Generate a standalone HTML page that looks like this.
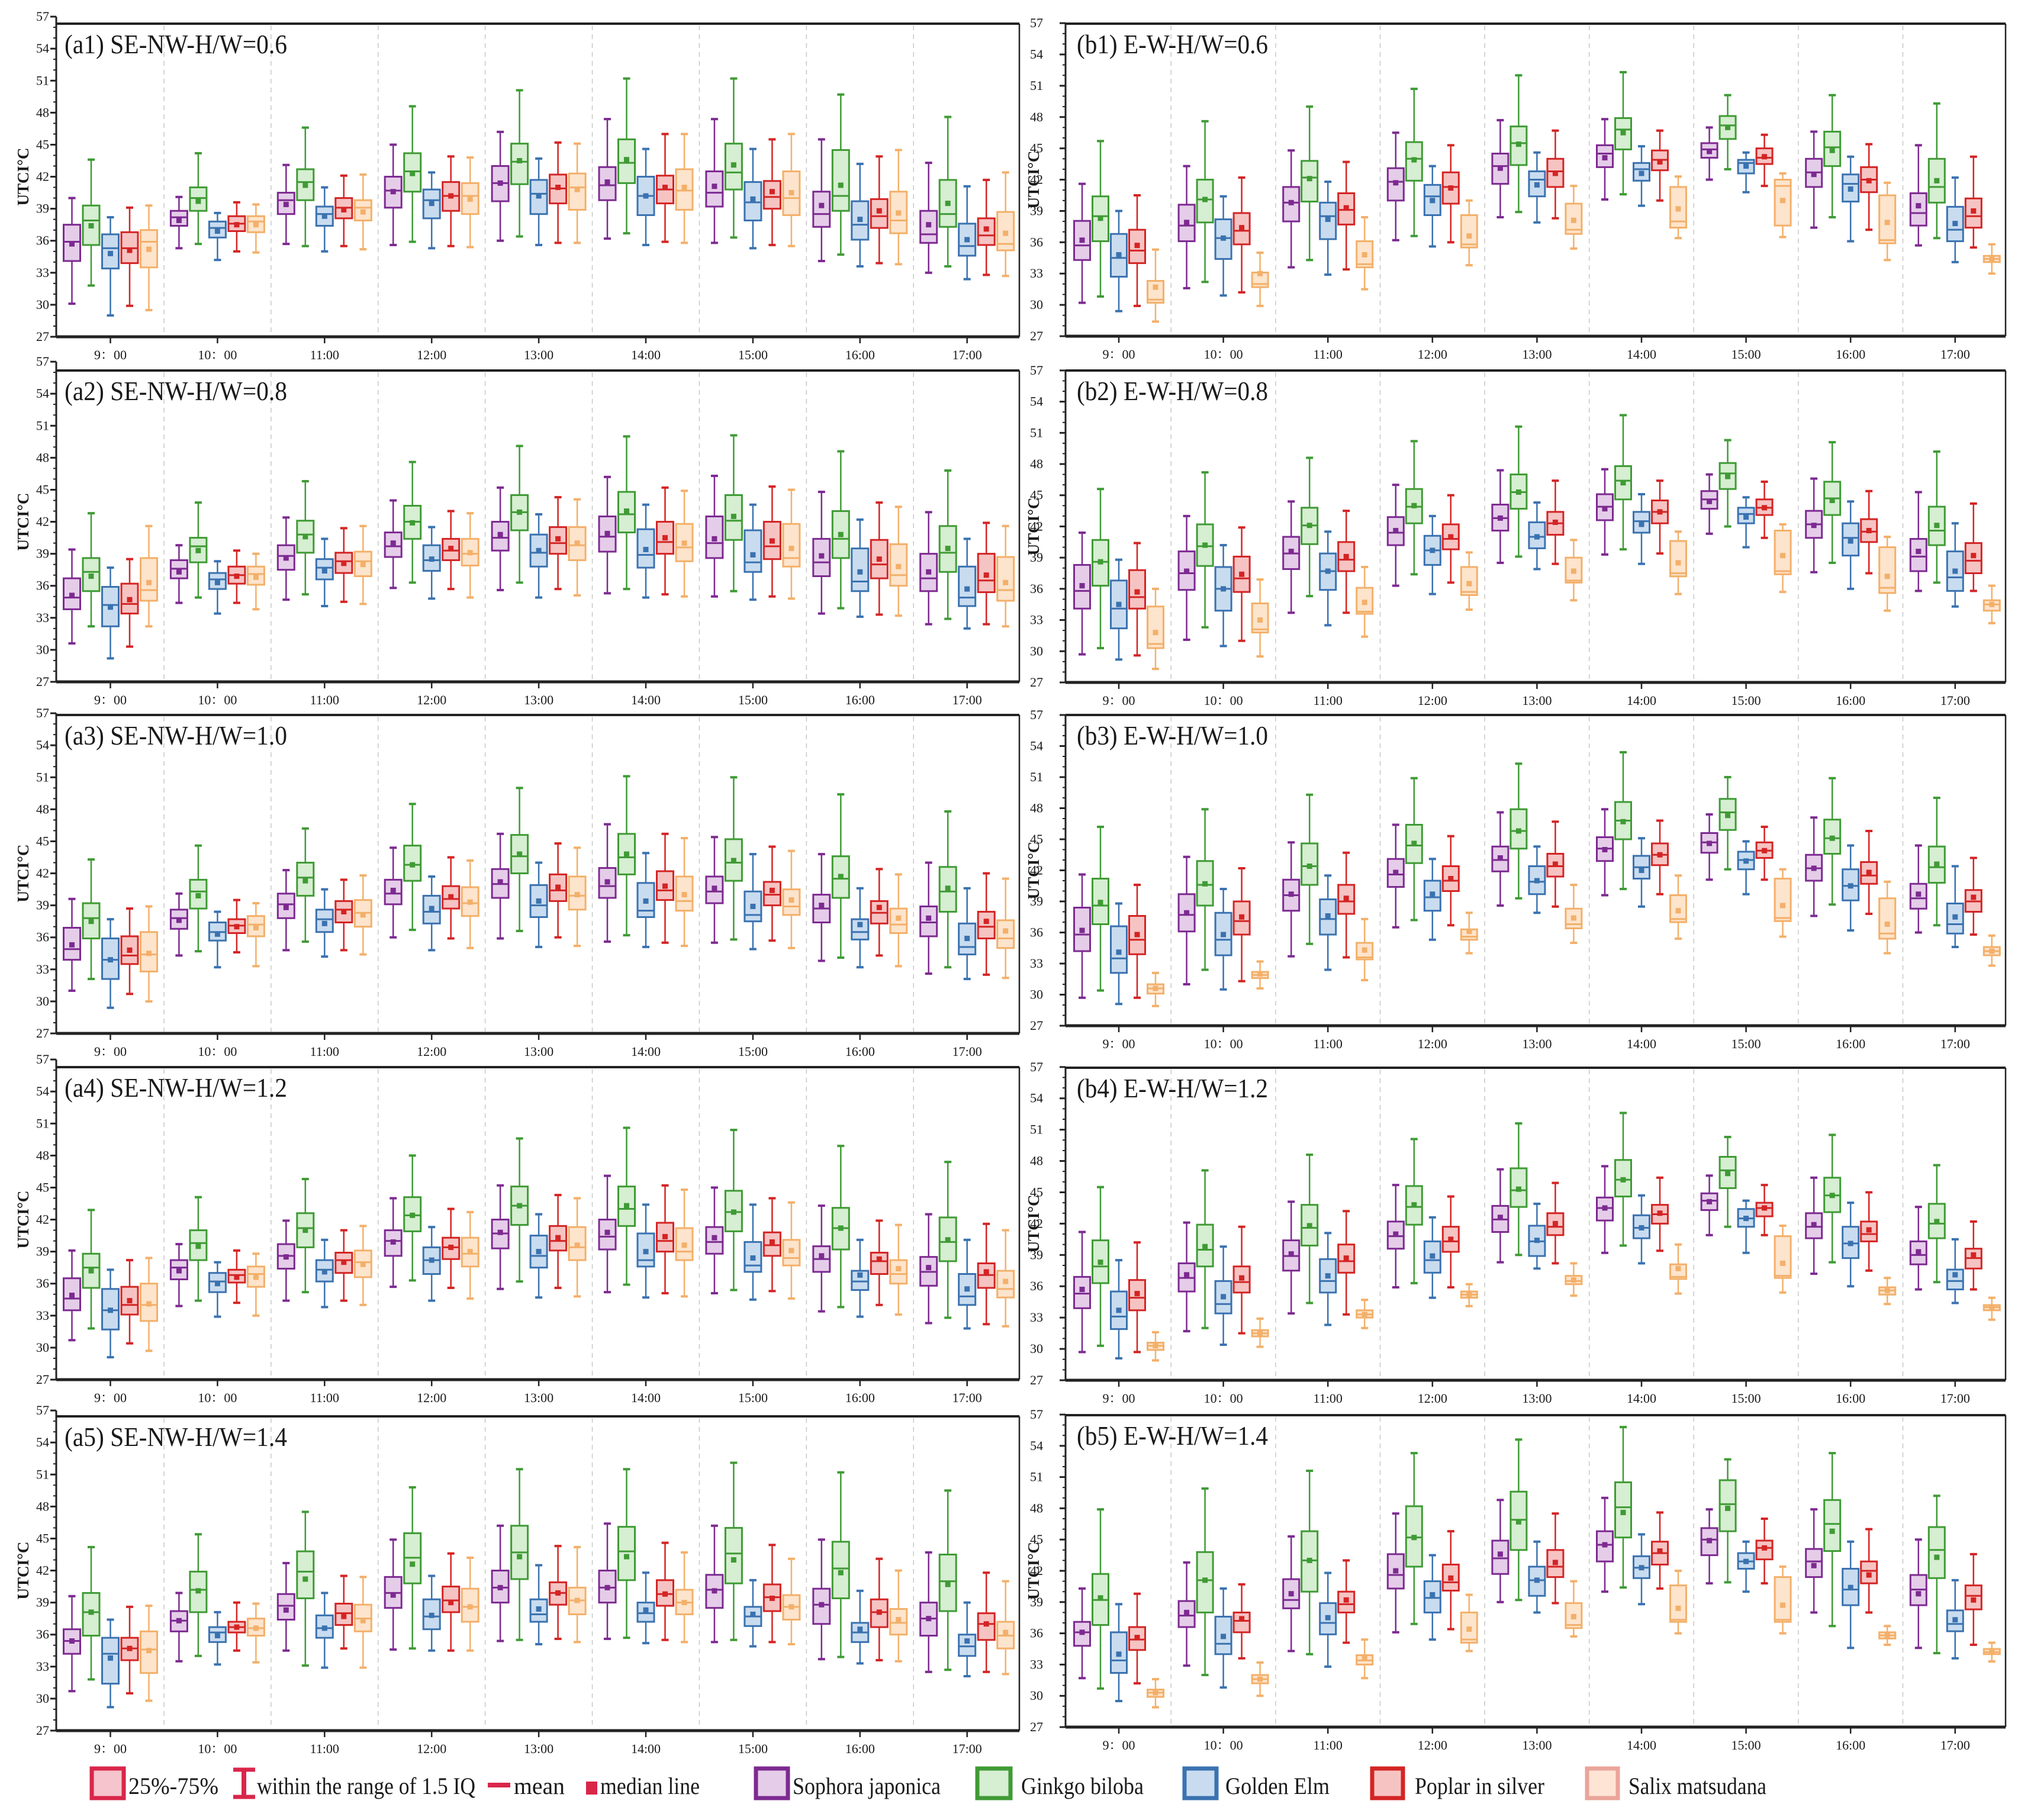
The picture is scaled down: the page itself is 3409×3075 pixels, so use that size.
<!DOCTYPE html>
<html><head><meta charset="utf-8"><title>UTCI box plots</title>
<style>
html,body{margin:0;padding:0;background:#fff;}
svg{display:block;}
text{font-family:"Liberation Serif","Noto Serif CJK SC","Noto Sans CJK SC",serif;fill:#1a1a1a;}
</style></head>
<body>
<svg id="chart" xmlns="http://www.w3.org/2000/svg" width="3409" height="3075" viewBox="0 0 3409 3075">
<rect x="0" y="0" width="3409" height="3075" fill="#fff"/>
<g id="panels"></g>
<g id="legend">
  <g>
    <rect x="155" y="2988" width="54" height="50" fill="#f6c4cc" stroke="#d9264a" stroke-width="7"/>
    <text x="217" y="3031" font-size="40" textLength="152" lengthAdjust="spacingAndGlyphs">25%-75%</text>
  </g>
  <g>
    <line x1="412" y1="2990" x2="412" y2="3036" stroke="#d9264a" stroke-width="8"/>
    <line x1="394" y1="2990" x2="431" y2="2990" stroke="#d9264a" stroke-width="7"/>
    <line x1="394" y1="3036" x2="431" y2="3036" stroke="#d9264a" stroke-width="7"/>
    <text x="434" y="3031" font-size="40" textLength="369" lengthAdjust="spacingAndGlyphs">within the range of 1.5 IQ</text>
  </g>
  <g>
    <line x1="824" y1="3016" x2="862" y2="3016" stroke="#d9264a" stroke-width="8"/>
    <text x="868" y="3031" font-size="40" textLength="86" lengthAdjust="spacingAndGlyphs">mean</text>
  </g>
  <g>
    <rect x="990" y="3010" width="19" height="22" fill="#d9264a"/>
    <text x="1014" y="3031" font-size="40" textLength="168" lengthAdjust="spacingAndGlyphs">median line</text>
  </g>
  <g>
    <rect x="1277" y="2988" width="54" height="50" fill="#e5cde9" stroke="#7d2a91" stroke-width="7"/>
    <text x="1339" y="3031" font-size="40" textLength="250" lengthAdjust="spacingAndGlyphs">Sophora japonica</text>
  </g>
  <g>
    <rect x="1651" y="2988" width="56" height="50" fill="#d6eed1" stroke="#3f9b35" stroke-width="7"/>
    <text x="1725" y="3031" font-size="40" textLength="207" lengthAdjust="spacingAndGlyphs">Ginkgo biloba</text>
  </g>
  <g>
    <rect x="2001" y="2988" width="54" height="50" fill="#c9dcef" stroke="#3a72b0" stroke-width="7"/>
    <text x="2070" y="3031" font-size="40" textLength="176" lengthAdjust="spacingAndGlyphs">Golden Elm</text>
  </g>
  <g>
    <rect x="2318" y="2988" width="52" height="50" fill="#f6c3c3" stroke="#d42424" stroke-width="7"/>
    <text x="2390" y="3031" font-size="40" textLength="219" lengthAdjust="spacingAndGlyphs">Poplar in silver</text>
  </g>
  <g>
    <rect x="2681" y="2988" width="52" height="50" fill="#fde4d4" stroke="#eba49a" stroke-width="7"/>
    <text x="2751" y="3031" font-size="40" textLength="233" lengthAdjust="spacingAndGlyphs">Salix matsudana</text>
  </g>
</g>
</svg>
<script>
// ---- categories / ticks ----
const timeLabels = ["9：00","10：00","11:00","12:00","13:00","14:00","15:00","16:00","17:00"];
const species = ["sophora-japonica","ginkgo-biloba","golden-elm","poplar-in-silver","salix-matsudana"];
const yTicks = [27,30,33,36,39,42,45,48,51,54,57];

// ---- data: [time][species] ----
const a1Hi=[[40.0,43.6,38.2,39.1,39.3],[40.1,44.2,38.6,39.6,39.4],[43.1,46.6,41.0,42.1,42.2],[45.0,48.6,42.4,43.9,43.8],[46.2,50.1,43.7,45.2,45.1],[47.4,51.2,44.6,46.0,46.0],[47.4,51.2,44.6,45.5,46.0],[45.5,49.7,43.2,43.9,44.5],[43.3,47.6,41.1,41.7,42.4]];
const a1Q3=[[37.5,39.3,36.6,36.8,37.0],[38.8,41.0,37.8,38.3,38.3],[40.5,42.7,39.2,40.0,39.8],[42.0,44.2,40.8,41.5,41.4],[43.0,45.1,41.7,42.2,42.3],[42.9,45.5,42.0,42.1,42.7],[42.5,45.1,41.5,41.6,42.5],[40.6,44.5,39.7,39.9,40.6],[38.8,41.7,37.6,38.1,38.7]];
const a1Med=[[35.9,37.9,35.3,35.3,35.9],[38.2,40.0,37.2,37.6,37.8],[39.8,41.5,38.5,39.1,39.1],[40.7,42.5,39.8,40.2,40.2],[41.4,43.4,40.4,40.9,41.0],[41.2,43.3,40.2,40.8,40.7],[40.5,42.4,39.6,40.1,40.0],[38.5,40.2,37.5,38.3,37.9],[36.6,38.5,35.5,36.5,35.7]];
const a1Q1=[[34.1,35.6,33.4,33.9,33.5],[37.4,38.8,36.3,36.9,36.8],[38.5,39.8,37.4,38.1,37.9],[39.1,40.6,38.1,38.8,38.5],[39.7,41.3,38.5,39.5,38.9],[39.8,41.4,38.4,39.5,38.9],[39.2,40.8,37.9,39.0,38.4],[37.3,38.8,36.1,37.2,36.7],[35.8,37.3,34.6,35.6,35.1]];
const a1Lo=[[30.1,31.8,29.0,29.9,29.5],[35.3,35.7,34.2,35.0,34.9],[35.7,35.5,35.0,35.5,35.2],[35.6,35.9,35.3,35.5,35.4],[36.0,36.4,35.6,35.8,35.8],[36.2,36.7,35.6,35.9,35.8],[35.8,36.3,35.3,35.6,35.5],[34.1,34.7,33.6,33.9,33.8],[33.0,33.6,32.4,32.8,32.7]];
const a1Mean=[[35.7,37.4,34.8,35.1,35.2],[37.9,39.7,36.9,37.5,37.5],[39.4,41.2,38.3,38.9,38.7],[40.6,42.3,39.5,40.2,39.9],[41.4,43.5,40.2,41.0,40.8],[41.5,43.6,40.2,41.0,41.0],[41.1,43.1,39.9,40.6,40.5],[39.3,41.2,38.0,38.8,38.6],[37.5,39.5,36.1,37.1,36.7]];

const a2Hi=[[39.4,42.8,37.7,38.5,41.6],[39.8,43.8,38.3,39.3,39.0],[42.4,45.8,40.4,41.4,41.6],[44.0,47.6,41.5,43.0,42.8],[45.2,49.1,42.7,44.3,44.1],[46.2,50.0,43.6,45.2,44.9],[46.3,50.1,43.6,45.3,45.0],[44.8,48.6,42.2,43.8,43.4],[42.9,46.8,40.4,41.9,41.6]];
const a2Q3=[[36.7,38.6,35.9,36.2,38.6],[38.4,40.5,37.2,37.8,37.8],[39.8,42.1,38.5,39.1,39.2],[41.0,43.5,39.8,40.4,40.4],[42.0,44.5,40.8,41.5,41.5],[42.5,44.8,41.3,42.0,41.8],[42.5,44.5,41.2,42.0,41.8],[40.4,43.0,39.5,40.3,39.9],[39.0,41.6,37.8,39.0,38.7]];
const a2Med=[[34.9,37.3,34.2,34.3,35.6],[37.6,39.7,36.6,37.0,37.1],[38.8,40.8,37.7,38.3,38.3],[39.7,42.0,38.4,39.3,39.0],[40.5,42.9,39.1,40.0,39.8],[40.6,42.7,38.9,40.1,39.6],[40.0,42.1,38.2,39.7,38.6],[38.2,40.4,36.4,38.0,37.0],[36.7,39.1,34.9,36.5,35.6]];
const a2Q1=[[33.8,35.5,32.2,33.4,34.6],[36.7,38.2,35.7,36.2,36.1],[37.5,39.1,36.6,37.2,36.9],[38.7,40.4,37.4,38.4,37.9],[39.3,41.2,37.8,39.0,38.4],[39.2,41.0,37.7,39.0,38.3],[38.6,40.3,37.3,38.5,37.8],[36.9,38.6,35.5,36.7,36.0],[35.5,37.3,34.1,35.4,34.6]];
const a2Lo=[[30.6,32.2,29.2,30.3,32.2],[34.4,34.9,33.4,34.4,33.8],[34.7,35.2,34.1,34.5,34.3],[35.8,36.3,34.8,35.7,34.9],[35.6,36.3,34.9,35.7,35.1],[35.3,35.7,34.9,35.2,35.0],[35.0,35.5,34.7,35.0,34.8],[33.4,33.9,33.1,33.3,33.2],[32.4,32.9,32.0,32.4,32.2]];
const a2Mean=[[35.1,36.9,34.0,34.7,36.3],[37.3,39.3,36.3,36.9,36.8],[38.6,40.6,37.4,38.1,38.0],[40.0,41.9,38.5,39.5,39.1],[40.8,42.9,39.3,40.4,40.0],[40.9,43.0,39.4,40.5,40.0],[40.4,42.5,38.9,40.2,39.5],[38.8,40.8,37.3,38.5,37.8],[37.3,39.5,35.7,37.0,36.3]];

const a3Hi=[[39.6,43.3,37.7,38.7,38.9],[40.1,44.6,38.4,39.5,39.2],[42.3,46.2,40.5,41.4,41.8],[44.4,48.5,41.7,43.5,43.2],[45.7,50.0,43.0,44.8,44.4],[46.6,51.1,43.9,45.7,45.3],[45.4,51.0,43.8,44.5,44.1],[43.8,49.4,40.6,42.4,41.9],[43.0,47.8,40.6,42.0,41.5]];
const a3Q3=[[36.9,39.2,35.9,36.1,36.5],[38.6,41.4,37.4,37.7,38.0],[40.1,43.0,38.6,39.4,39.5],[41.4,44.6,39.9,40.8,40.7],[42.4,45.6,40.9,41.9,41.7],[42.5,45.7,41.1,42.2,41.7],[41.7,45.2,40.3,41.2,40.5],[40.0,43.6,37.7,39.4,38.7],[38.9,42.6,37.3,38.4,37.6]];
const a3Med=[[34.9,37.8,33.9,34.3,34.4],[37.8,40.3,36.5,37.1,37.2],[39.1,41.6,37.7,38.6,38.3],[40.1,42.8,38.4,39.6,39.2],[41.0,43.6,39.0,40.4,39.9],[40.8,43.5,38.5,40.4,39.4],[40.3,43.0,38.1,40.0,38.9],[38.7,41.5,36.5,38.3,37.2],[37.4,40.3,35.1,37.0,35.9]];
const a3Q1=[[33.9,35.9,32.1,33.5,32.8],[36.8,38.7,35.7,36.4,36.1],[37.8,39.9,36.5,37.4,37.0],[39.1,41.3,37.3,38.7,38.0],[39.7,42.0,37.9,39.4,38.6],[39.7,41.9,37.9,39.5,38.5],[39.2,41.3,37.5,39.0,38.1],[37.4,39.7,35.8,37.3,36.4],[36.1,38.4,34.4,35.9,35.0]];
const a3Lo=[[31.0,32.1,29.4,30.7,30.0],[34.3,34.7,33.2,34.6,33.3],[34.8,35.6,34.2,34.8,34.4],[36.0,36.7,34.8,35.9,35.0],[35.9,36.6,35.1,36.0,35.2],[35.6,36.2,35.1,35.5,35.2],[35.5,35.8,34.9,35.7,35.0],[33.8,34.1,33.2,34.3,33.3],[32.6,33.2,32.1,32.5,32.2]];
const a3Mean=[[35.3,37.5,33.9,34.8,34.5],[37.6,39.9,36.3,37.0,36.9],[38.8,41.3,37.3,38.4,38.1],[40.4,42.8,38.7,39.8,39.3],[41.2,43.8,39.4,40.7,40.0],[41.2,43.8,39.4,40.8,40.0],[40.6,43.2,38.9,40.4,39.5],[39.0,41.7,37.2,38.8,37.8],[37.8,40.6,35.9,37.5,36.6]];

const a4Hi=[[39.1,42.9,37.3,38.2,38.4],[39.7,44.1,38.0,39.1,38.8],[41.9,45.8,40.1,41.0,41.4],[44.0,48.0,41.3,43.0,42.7],[45.2,49.6,42.5,44.3,44.0],[46.1,50.6,43.4,45.2,44.8],[45.0,50.4,43.4,44.0,43.6],[43.3,48.9,40.1,41.9,41.5],[42.5,47.4,40.1,41.6,41.0]];
const a4Q3=[[36.5,38.8,35.5,35.7,36.0],[38.2,41.0,37.0,37.3,37.6],[39.7,42.6,38.2,38.9,39.1],[41.0,44.1,39.4,40.3,40.3],[42.0,45.1,40.5,41.4,41.3],[42.0,45.1,40.7,41.7,41.2],[41.3,44.7,39.9,40.8,40.1],[39.5,43.1,37.2,38.9,38.2],[38.5,42.2,36.9,37.9,37.2]];
const a4Med=[[34.6,37.5,33.5,34.0,34.0],[37.5,39.8,36.2,36.8,36.9],[38.6,41.2,37.3,38.2,38.0],[40.0,42.4,38.2,39.4,38.8],[40.7,43.3,38.6,40.0,39.4],[40.4,43.0,38.2,40.0,39.0],[39.9,42.7,37.7,39.6,38.4],[38.3,41.2,36.2,38.1,36.9],[37.1,39.9,34.8,36.8,35.5]];
const a4Q1=[[33.5,35.6,31.7,33.1,32.5],[36.4,38.2,35.2,36.1,35.7],[37.4,39.4,36.2,37.0,36.6],[38.6,40.9,36.9,38.3,37.6],[39.3,41.5,37.5,39.1,38.2],[39.2,41.4,37.6,39.0,38.2],[38.8,40.9,37.1,38.6,37.7],[37.1,39.2,35.4,36.9,36.0],[35.8,38.1,34.0,35.6,34.7]];
const a4Lo=[[30.7,31.8,29.1,30.4,29.7],[33.9,34.4,32.9,34.2,33.0],[34.4,35.2,33.8,34.4,34.0],[35.7,36.3,34.4,35.6,34.6],[35.5,36.2,34.7,35.6,34.8],[35.2,35.9,34.7,35.1,34.8],[35.1,35.4,34.5,35.3,34.6],[33.4,33.8,32.9,34.0,33.1],[32.3,32.8,31.8,32.2,32.0]];
const a4Mean=[[34.9,37.2,33.5,34.4,34.1],[37.2,39.5,36.0,36.6,36.6],[38.5,41.0,37.1,38.0,37.8],[39.9,42.4,38.2,39.4,39.0],[40.8,43.3,39.0,40.3,39.6],[40.8,43.3,39.0,40.4,39.6],[40.3,42.7,38.4,39.9,39.1],[38.6,41.2,36.8,38.3,37.4],[37.5,40.1,35.5,37.1,36.2]];

const a5Hi=[[39.6,44.2,37.4,38.6,38.7],[39.9,45.4,38.1,39.0,38.9],[42.7,47.5,39.9,41.5,41.4],[44.9,49.8,41.5,43.6,43.2],[46.2,51.5,42.5,44.3,44.2],[46.4,51.5,41.8,44.6,43.7],[46.2,52.1,41.1,44.4,43.1],[44.9,51.2,40.1,43.1,42.0],[43.7,49.5,39.0,41.8,41.0]];
const a5Q3=[[36.5,39.9,35.7,35.7,36.3],[38.2,41.9,36.7,37.2,37.5],[39.8,43.8,37.8,38.9,38.8],[41.4,45.5,39.3,40.5,40.3],[42.0,46.2,39.3,40.9,40.4],[42.0,46.1,39.0,41.1,40.2],[41.6,46.0,38.6,40.7,39.7],[40.3,44.7,37.1,39.3,38.4],[39.0,43.5,36.0,38.0,37.2]];
const a5Med=[[35.4,38.1,34.2,34.7,34.6],[37.3,40.2,36.2,36.7,36.6],[38.7,41.9,36.6,38.0,37.5],[39.9,43.2,37.7,39.2,38.6],[40.4,43.7,37.9,39.9,39.2],[40.4,43.8,38.0,39.8,39.0],[40.2,43.6,37.7,39.5,38.6],[38.8,42.2,36.2,38.1,37.1],[37.5,41.0,34.9,37.0,35.9]];
const a5Q1=[[34.2,35.9,31.4,33.6,32.4],[36.3,38.1,35.3,36.2,35.9],[37.4,39.4,35.7,36.9,36.3],[38.5,40.8,36.5,38.1,37.2],[39.0,41.2,37.2,38.8,37.9],[39.0,41.1,37.2,38.7,37.9],[38.5,40.8,36.8,38.2,37.4],[37.0,39.4,35.3,36.7,36.0],[35.9,38.2,34.0,35.5,34.7]];
const a5Lo=[[30.7,31.8,29.2,30.5,29.8],[33.5,34.0,33.2,34.5,33.4],[34.5,33.1,32.9,34.7,32.9],[34.6,34.7,34.5,34.5,34.5],[35.4,35.5,35.1,35.6,35.3],[35.6,35.7,35.2,35.5,35.3],[35.3,35.5,34.9,35.3,35.1],[33.7,33.9,33.3,33.6,33.5],[32.5,32.7,32.1,32.5,32.3]];
const a5Mean=[[35.4,38.1,33.8,34.7,34.5],[37.3,40.1,35.9,36.7,36.6],[38.3,41.2,36.6,37.7,37.3],[39.7,42.6,37.8,39.0,38.6],[40.4,43.3,38.4,39.9,39.2],[40.4,43.3,38.3,39.8,39.0],[40.1,43.0,37.9,39.4,38.6],[38.8,41.8,36.5,38.1,37.4],[37.5,40.7,35.4,37.0,36.2]];

const b1Hi=[[41.6,45.7,39.0,40.5,35.3],[43.3,47.6,40.4,42.2,35.0],[44.8,49.0,41.8,43.7,38.4],[46.5,50.7,43.3,45.3,40.0],[47.7,52.0,44.6,46.7,41.4],[47.8,52.3,45.2,46.7,42.3],[47.0,50.1,44.6,46.3,42.6],[46.6,50.1,44.2,45.4,41.7],[45.3,49.3,42.2,44.2,35.8]];
const b1Q3=[[38.05,40.4,36.8,37.2,32.3],[39.6,42.0,38.2,38.8,33.1],[41.3,43.8,39.8,40.7,36.1],[43.1,45.6,41.5,42.7,38.6],[44.5,47.1,42.8,44.0,39.7],[45.3,47.9,43.6,44.8,41.3],[45.5,48.1,43.9,45.0,42.0],[44.0,46.6,42.5,43.2,40.5],[40.7,44.0,39.4,40.2,34.7]];
const b1Med=[[35.7,38.5,34.5,35.2,30.5],[37.6,40.1,36.4,37.1,32.0],[39.8,42.2,38.5,39.1,33.9],[41.8,44.0,40.4,41.3,35.8],[43.3,45.5,42.0,42.8,37.2],[44.5,46.8,43.0,43.9,38.0],[44.9,47.2,43.6,44.1,41.4],[42.7,45.1,41.6,42.0,36.2],[38.8,41.3,37.2,38.5,34.4]];
const b1Q1=[[34.3,36.1,32.7,34.0,30.2],[36.1,37.9,34.4,35.8,31.7],[38.0,39.9,36.3,37.7,33.6],[40.0,41.9,38.6,39.7,35.5],[41.6,43.4,40.4,41.3,36.8],[43.2,44.9,41.9,42.9,37.4],[44.1,45.9,42.6,43.5,37.6],[41.3,43.3,39.9,40.8,35.9],[37.6,39.8,36.1,37.4,34.1]];
const b1Lo=[[30.2,30.8,29.4,29.9,28.4],[31.6,32.2,30.9,31.2,29.9],[33.6,34.3,32.9,33.4,31.5],[36.2,36.6,35.6,36.0,33.8],[38.4,38.9,37.9,38.3,35.4],[40.1,40.6,39.5,40.0,36.4],[42.0,43.0,40.8,41.4,36.5],[37.4,38.4,36.1,37.2,34.3],[35.7,36.4,34.1,35.5,33.0]];
const b1Mean=[[36.2,38.3,34.8,35.7,31.7],[37.9,40.1,36.4,37.4,33.0],[39.8,42.1,38.2,39.3,34.8],[41.7,43.9,40.0,41.2,36.6],[43.1,45.4,41.5,42.6,38.1],[44.1,46.5,42.6,43.7,39.2],[44.7,47.0,43.3,44.2,40.0],[42.5,44.8,41.1,41.9,37.9],[39.5,41.9,37.8,39.0,34.4]];

const b2Hi=[[41.4,45.6,38.8,40.4,36.0],[43.0,47.2,40.2,41.9,36.9],[44.4,48.6,41.5,43.5,38.1],[46.0,50.2,43.0,45.0,39.5],[47.4,51.6,44.3,46.4,40.7],[47.5,52.7,45.1,46.4,41.5],[47.0,50.3,44.8,46.3,42.2],[46.6,50.1,44.4,45.4,41.0],[45.3,49.2,42.3,44.2,36.3]];
const b2Q3=[[38.3,40.7,36.8,37.8,34.3],[39.6,42.2,38.1,39.1,34.6],[41.0,43.8,39.4,40.5,36.1],[42.9,45.6,41.1,42.2,38.1],[44.1,47.0,42.4,43.4,39.0],[45.1,47.8,43.4,44.5,40.6],[45.4,48.1,43.8,44.6,41.6],[43.5,46.3,42.3,42.7,40.0],[40.8,43.9,39.6,40.4,34.9]];
const b2Med=[[35.8,38.6,34.1,35.2,30.7],[37.5,40.1,36.0,37.0,32.1],[39.4,42.1,37.7,38.8,33.8],[41.4,43.9,39.7,40.8,35.7],[42.8,45.3,41.0,42.3,36.8],[43.9,46.4,42.5,43.4,37.5],[44.6,47.1,43.2,43.8,37.7],[42.2,44.7,40.9,41.5,36.1],[39.1,41.6,37.1,38.7,34.5]];
const b2Q1=[[34.1,36.3,32.2,34.1,30.3],[35.9,38.2,33.9,35.7,31.8],[37.9,40.3,35.9,37.7,33.6],[40.2,42.3,38.3,39.8,35.4],[41.6,43.7,39.9,41.2,36.6],[42.6,44.6,41.4,42.3,37.2],[43.7,45.6,42.3,43.1,37.4],[40.9,43.1,39.2,40.5,35.6],[37.7,40.2,35.8,37.5,33.9]];
const b2Lo=[[29.7,30.3,29.2,29.6,28.3],[31.1,32.3,30.5,31.0,29.5],[33.7,35.3,32.5,33.7,31.4],[36.3,37.4,35.5,36.6,34.0],[38.5,39.1,37.9,38.4,34.9],[39.3,39.8,38.4,39.4,35.5],[41.3,42.0,40.0,40.9,35.7],[37.6,38.5,36.0,37.5,33.9],[35.8,36.6,34.3,35.8,32.7]];
const b2Mean=[[36.3,38.6,34.5,35.7,31.8],[37.7,40.2,36.0,37.4,33.0],[39.6,42.1,37.7,39.1,34.7],[41.6,44.0,39.7,41.0,36.5],[42.8,45.3,41.0,42.4,37.7],[43.7,46.2,42.2,43.4,38.5],[44.4,46.8,42.9,43.8,39.2],[42.1,44.5,40.6,41.6,37.2],[39.6,42.1,37.7,39.2,34.5]];

const b3Hi=[[41.6,46.2,38.8,40.6,32.1],[43.3,47.9,40.2,42.2,33.2],[44.7,49.3,41.5,43.7,37.3],[46.4,50.9,43.1,45.3,37.9],[47.6,52.3,44.3,46.7,40.6],[47.9,53.4,45.1,46.8,41.5],[47.4,51.0,44.8,46.2,42.1],[47.1,50.9,44.4,45.8,40.9],[44.4,49.0,42.4,43.2,35.7]];
const b3Q3=[[38.4,41.2,36.6,37.6,31.0],[39.7,42.9,37.9,39.0,32.2],[41.1,44.6,39.2,40.6,35.0],[43.1,46.4,41.0,42.4,36.3],[44.3,47.9,42.4,43.6,38.3],[45.2,48.6,43.4,44.6,39.6],[45.6,48.9,43.8,44.7,41.2],[43.5,46.9,42.1,42.8,39.3],[40.7,44.3,38.8,40.1,34.6]];
const b3Med=[[35.8,38.6,33.5,35.3,30.6],[37.7,40.6,35.3,37.1,31.9],[39.6,42.4,37.3,39.0,33.6],[41.6,44.4,39.4,41.0,35.6],[43.0,45.8,40.9,42.4,36.8],[44.1,46.8,42.3,43.5,37.3],[44.7,47.6,43.0,43.9,37.4],[42.2,45.1,40.5,41.5,35.9],[39.3,42.3,36.8,39.0,34.2]];
const b3Q1=[[34.2,36.8,32.1,33.9,30.1],[36.1,38.6,33.8,35.8,31.6],[38.1,40.6,35.8,37.8,33.4],[40.4,42.7,38.1,40.0,35.3],[41.9,44.1,39.7,41.4,36.4],[42.9,45.0,41.2,42.5,37.0],[43.7,45.9,42.1,43.2,37.1],[41.0,43.6,39.1,40.7,35.4],[38.3,40.8,35.9,38.0,33.8]];
const b3Lo=[[29.7,30.4,29.1,29.7,28.9],[31.0,32.4,30.5,31.3,30.6],[33.7,34.9,32.4,33.6,31.4],[36.5,37.2,35.3,36.7,34.0],[38.6,39.3,37.9,38.5,35.0],[39.6,40.2,38.5,39.7,35.4],[41.1,42.1,39.7,41.1,35.6],[37.6,38.7,36.2,37.8,34.0],[36.0,36.7,34.6,35.8,32.8]];
const b3Mean=[[36.2,38.9,34.1,35.8,30.6],[37.9,40.7,35.8,37.5,32.0],[39.7,42.4,37.6,39.3,34.3],[41.8,44.6,39.7,41.2,36.1],[43.2,45.8,41.0,42.6,37.4],[44.0,46.7,42.0,43.5,38.1],[44.6,47.3,42.9,43.9,38.6],[42.2,45.1,40.5,41.8,36.8],[39.7,42.6,37.5,39.4,34.2]];

const b4Hi=[[41.2,45.5,38.5,40.2,31.6],[42.1,47.1,39.8,41.7,32.9],[44.1,48.6,41.1,43.2,34.7],[45.7,50.1,42.6,44.6,36.2],[47.2,51.6,43.9,45.9,38.2],[47.5,52.6,44.7,46.4,40.0],[46.6,50.3,44.2,45.7,41.8],[46.4,50.5,44.0,45.0,36.8],[43.6,47.6,40.5,42.2,34.9]];
const b4Q3=[[36.9,40.4,35.5,36.6,30.6],[38.2,41.9,36.5,37.9,31.8],[40.4,43.8,38.6,40.0,33.7],[42.2,45.6,40.3,41.7,35.5],[43.7,47.3,41.8,43.0,37.0],[44.5,48.1,42.8,43.8,38.1],[44.9,48.4,43.4,44.0,40.8],[43.0,46.4,41.7,42.2,35.9],[40.3,43.9,37.6,39.6,34.2]];
const b4Med=[[35.3,37.9,33.1,34.9,30.3],[36.8,39.5,34.3,36.4,31.5],[38.9,41.6,36.5,38.4,33.3],[40.8,43.6,38.5,40.3,35.2],[42.4,45.2,40.3,41.7,36.5],[43.5,46.2,41.6,42.9,36.9],[44.2,47.1,42.5,43.5,37.0],[41.7,44.7,40.1,41.0,35.6],[39.0,42.0,36.5,38.7,34.0]];
const b4Q1=[[33.9,36.3,31.9,33.7,29.9],[35.5,37.9,33.4,35.4,31.2],[37.5,39.9,35.4,37.3,33.0],[39.6,41.9,37.3,39.3,34.9],[41.2,43.6,38.9,40.9,36.2],[42.3,44.6,40.6,42.0,36.7],[43.3,45.4,41.7,42.7,36.8],[40.6,43.1,38.7,40.3,35.2],[38.1,40.6,35.7,37.7,33.7]];
const b4Lo=[[29.7,30.3,29.1,29.7,28.9],[31.7,32.0,30.4,31.5,30.2],[33.4,34.4,32.3,33.3,32.0],[35.9,36.3,34.9,35.9,34.1],[38.3,39.0,37.7,38.2,35.1],[39.2,39.9,38.2,39.4,35.3],[40.9,41.7,39.2,40.9,35.4],[37.2,38.3,36.0,37.5,34.3],[35.7,36.4,34.4,35.7,32.8]];
const b4Mean=[[35.7,38.3,33.7,35.3,30.3],[37.1,39.8,35.0,36.8,31.5],[39.1,41.8,37.0,38.7,33.3],[41.0,43.8,38.9,40.5,35.2],[42.6,45.3,40.4,42.0,36.6],[43.5,46.2,41.6,43.0,37.7],[44.1,46.8,42.5,43.5,38.2],[41.9,44.7,40.1,41.4,35.6],[39.3,42.2,37.1,39.0,34.0]];

const b5Hi=[[40.3,47.9,38.8,39.8,31.6],[42.8,49.9,40.3,40.7,33.2],[45.3,51.6,41.8,43.0,35.4],[47.5,53.3,43.5,45.8,39.7],[48.8,54.6,44.8,47.5,41.0],[49.0,55.8,45.5,47.6,42.0],[47.9,52.7,44.8,47.0,42.4],[47.9,53.3,44.8,46.0,36.7],[45.0,49.2,41.1,43.6,35.1]];
const b5Q3=[[37.1,41.7,36.1,36.6,30.6],[39.1,43.8,37.6,38.0,32.0],[41.2,45.8,38.9,40.0,33.9],[43.6,48.2,41.0,42.6,38.0],[44.9,49.6,42.4,44.0,38.9],[45.8,50.5,43.4,44.8,40.6],[46.1,50.7,43.7,44.9,41.4],[44.1,48.8,42.2,42.9,36.1],[41.6,46.2,38.2,40.6,34.5]];
const b5Med=[[36.1,39.2,33.4,35.4,30.3],[37.7,41.1,35.0,37.2,31.6],[39.2,43.0,37.0,38.8,33.4],[41.6,45.2,39.4,40.9,35.4],[43.2,46.9,41.1,42.4,36.8],[44.5,48.1,42.3,43.7,37.3],[45.0,48.4,42.9,44.2,37.3],[42.9,46.5,40.2,42.0,35.8],[40.2,44.0,36.9,39.6,34.2]];
const b5Q1=[[34.8,36.8,32.2,34.4,29.9],[36.6,38.0,34.0,36.1,31.2],[38.4,40.0,35.9,38.0,33.0],[40.3,42.4,38.0,40.1,35.1],[41.7,44.0,39.6,41.4,36.5],[42.9,45.2,41.3,42.6,37.1],[43.5,45.8,42.2,43.1,37.1],[41.4,43.9,38.7,40.8,35.5],[38.7,41.3,36.2,38.3,34.0]];
const b5Lo=[[31.7,30.7,29.5,31.2,28.9],[32.9,32.0,30.8,33.6,30.0],[34.3,34.0,32.8,35.1,31.7],[36.1,36.9,35.4,36.4,34.3],[39.0,39.2,38.0,38.9,35.7],[40.0,40.4,38.8,40.3,36.0],[40.8,40.9,40.0,40.8,36.0],[38.0,36.7,34.6,38.0,34.9],[34.6,34.1,33.6,34.9,33.3]];
const b5Mean=[[36.1,39.4,34.0,35.6,30.3],[38.0,41.1,35.7,37.4,31.6],[39.8,43.0,37.5,39.2,33.7],[42.0,45.2,39.7,41.3,36.4],[43.6,46.7,41.1,42.8,37.6],[44.5,47.6,42.3,43.9,38.4],[44.9,48.0,42.9,44.2,38.7],[42.5,45.8,40.4,41.6,35.8],[39.8,43.3,37.3,39.2,34.2]];

// ---- panel layout (geometry only) ----
const LEFT = {axisX:95, right:1722, c0:186.5, step:180.9, off:32.5, bw:28, labX:83, ylabX:39};
const RIGHT= {axisX:1800, right:3388, c0:1890, step:176.6, off:31, bw:27, labX:1762, ylabX:1746};
const panels = [
  {id:'a1', t:'(a1) SE-NW-H/W=0.6', side:LEFT,  yB:569,  ppu:18.03, top:40,   d:[a1Hi,a1Q3,a1Med,a1Q1,a1Lo,a1Mean]},
  {id:'a2', t:'(a2) SE-NW-H/W=0.8', side:LEFT,  yB:1152, ppu:18.03, top:626,  d:[a2Hi,a2Q3,a2Med,a2Q1,a2Lo,a2Mean]},
  {id:'a3', t:'(a3) SE-NW-H/W=1.0', side:LEFT,  yB:1746, ppu:18.03, top:1208, d:[a3Hi,a3Q3,a3Med,a3Q1,a3Lo,a3Mean]},
  {id:'a4', t:'(a4) SE-NW-H/W=1.2', side:LEFT,  yB:2331, ppu:18.03, top:1803, d:[a4Hi,a4Q3,a4Med,a4Q1,a4Lo,a4Mean]},
  {id:'a5', t:'(a5) SE-NW-H/W=1.4', side:LEFT,  yB:2924, ppu:18.03, top:2393, d:[a5Hi,a5Q3,a5Med,a5Q1,a5Lo,a5Mean]},
  {id:'b1', t:'(b1) E-W-H/W=0.6',   side:RIGHT, yB:568,  ppu:17.63, top:40,   d:[b1Hi,b1Q3,b1Med,b1Q1,b1Lo,b1Mean]},
  {id:'b2', t:'(b2) E-W-H/W=0.8',   side:RIGHT, yB:1153, ppu:17.57, top:626,  d:[b2Hi,b2Q3,b2Med,b2Q1,b2Lo,b2Mean]},
  {id:'b3', t:'(b3) E-W-H/W=1.0',   side:RIGHT, yB:1733, ppu:17.5,  top:1208, d:[b3Hi,b3Q3,b3Med,b3Q1,b3Lo,b3Mean]},
  {id:'b4', t:'(b4) E-W-H/W=1.2',   side:RIGHT, yB:2332, ppu:17.64, top:1804, d:[b4Hi,b4Q3,b4Med,b4Q1,b4Lo,b4Mean]},
  {id:'b5', t:'(b5) E-W-H/W=1.4',   side:RIGHT, yB:2918, ppu:17.6,  top:2391, d:[b5Hi,b5Q3,b5Med,b5Q1,b5Lo,b5Mean]}
];
const strokes = ['#7d2a91','#3f9b35','#3a72b0','#d42424','#f3b06a'];
const fills   = ['#e5cde9','#d6eed1','#c9dcef','#f6c3c3','#fde4cc'];

const NS='http://www.w3.org/2000/svg';
function mk(tag, attrs, parent){
  const e=document.createElementNS(NS,tag);
  for(const k in attrs) e.setAttribute(k,attrs[k]);
  parent.appendChild(e); return e;
}
const root=document.getElementById('panels');

panels.forEach(p=>{
  const s=p.side;
  const yS=v=>p.yB-(v-27)*p.ppu;
  const xS=(t,k)=>s.c0+t*s.step+(k-2)*s.off;
  const g=mk('g',{},root);
  
  

  // dividers
  for(let t=0;t<timeLabels.length-1;t++){
    const x=s.c0+(t+0.5)*s.step;
    const dl=mk('line',{x1:x,y1:p.top+3,x2:x,y2:p.yB-3,stroke:'#c8c8c8','stroke-width':1.5,'stroke-dasharray':'8,7'},g);
    
    
  }
  // frame
  const fr=mk('g',{},g);
  
  
  mk('line',{x1:s.axisX,y1:p.top,x2:s.right,y2:p.top,stroke:'#222','stroke-width':4},fr);
  mk('line',{x1:s.right,y1:p.top,x2:s.right,y2:p.yB,stroke:'#222','stroke-width':2.5},fr);
  // y axis
  const ya=mk('g',{},g);
  
  
  mk('line',{x1:s.axisX,y1:Math.min(yS(57),p.top),x2:s.axisX,y2:p.yB,stroke:'#222','stroke-width':3},ya);
  for(let v=27;v<=57;v++){
    const major=yTicks.indexOf(v)>=0;
    mk('line',{x1:s.axisX-(major?10:5),y1:yS(v),x2:s.axisX,y2:yS(v),stroke:'#222','stroke-width':major?3:2},ya);
  }
  yTicks.forEach(v=>{
    const tl=mk('text',{x:s.labX,y:yS(v)+7,'font-size':22,'text-anchor':'end'},ya);
    tl.textContent=String(v);
    
    
  });
  const yt=mk('text',{x:s.ylabX,y:yS(42),'font-size':27,'font-weight':'bold','text-anchor':'middle',transform:`rotate(-90 ${s.ylabX} ${yS(42)})`,dy:9},g);
  yt.textContent='UTCI°C';
  
  
  // x axis
  const xa=mk('g',{},g);
  
  
  mk('line',{x1:s.axisX,y1:p.yB,x2:s.right,y2:p.yB,stroke:'#222','stroke-width':5},xa);
  timeLabels.forEach((lab,t)=>{
    const x=s.c0+t*s.step;
    mk('line',{x1:x,y1:p.yB,x2:x,y2:p.yB+11,stroke:'#222','stroke-width':2.5},xa);
    const tx=mk('text',{x:x,y:p.yB+38,'font-size':22,'text-anchor':'middle'},xa);
    tx.textContent=lab;
    
    
  });
  // title
  const ti=mk('text',{x:s===LEFT?109:1819,y:p.top+50,'font-size':46,textLength:s===LEFT?376:323,lengthAdjust:'spacingAndGlyphs'},g);
  ti.textContent=p.t;
  
  

  // boxes
  const [hi,q3,med,q1,lo,mean]=p.d;
  for(let t=0;t<timeLabels.length;t++){
    for(let k=0;k<species.length;k++){
      const cx=xS(t,k), bw=s.bw, col=strokes[k];
      const bx=mk('g',{},g);
      
      
      const yh=yS(hi[t][k]), yl=yS(lo[t][k]), y3=yS(q3[t][k]), y1=yS(q1[t][k]);
      mk('line',{x1:cx,y1:yh,x2:cx,y2:y3,stroke:col,'stroke-width':2.5},bx);
      mk('line',{x1:cx,y1:y1,x2:cx,y2:yl,stroke:col,'stroke-width':2.5},bx);
      mk('line',{x1:cx-6,y1:yh,x2:cx+6,y2:yh,stroke:col,'stroke-width':4},bx);
      mk('line',{x1:cx-6,y1:yl,x2:cx+6,y2:yl,stroke:col,'stroke-width':4},bx);
      mk('rect',{x:cx-bw/2,y:y3,width:bw,height:Math.max(1,y1-y3),fill:fills[k],stroke:col,'stroke-width':3},bx);
      const ym=yS(med[t][k]);
      mk('line',{x1:cx-bw/2,y1:ym,x2:cx+bw/2,y2:ym,stroke:col,'stroke-width':3},bx);
      const ya2=yS(mean[t][k]);
      mk('rect',{x:cx-4.5,y:ya2-4.5,width:9,height:9,fill:col},bx);
    }
  }
});
</script>
</body></html>
